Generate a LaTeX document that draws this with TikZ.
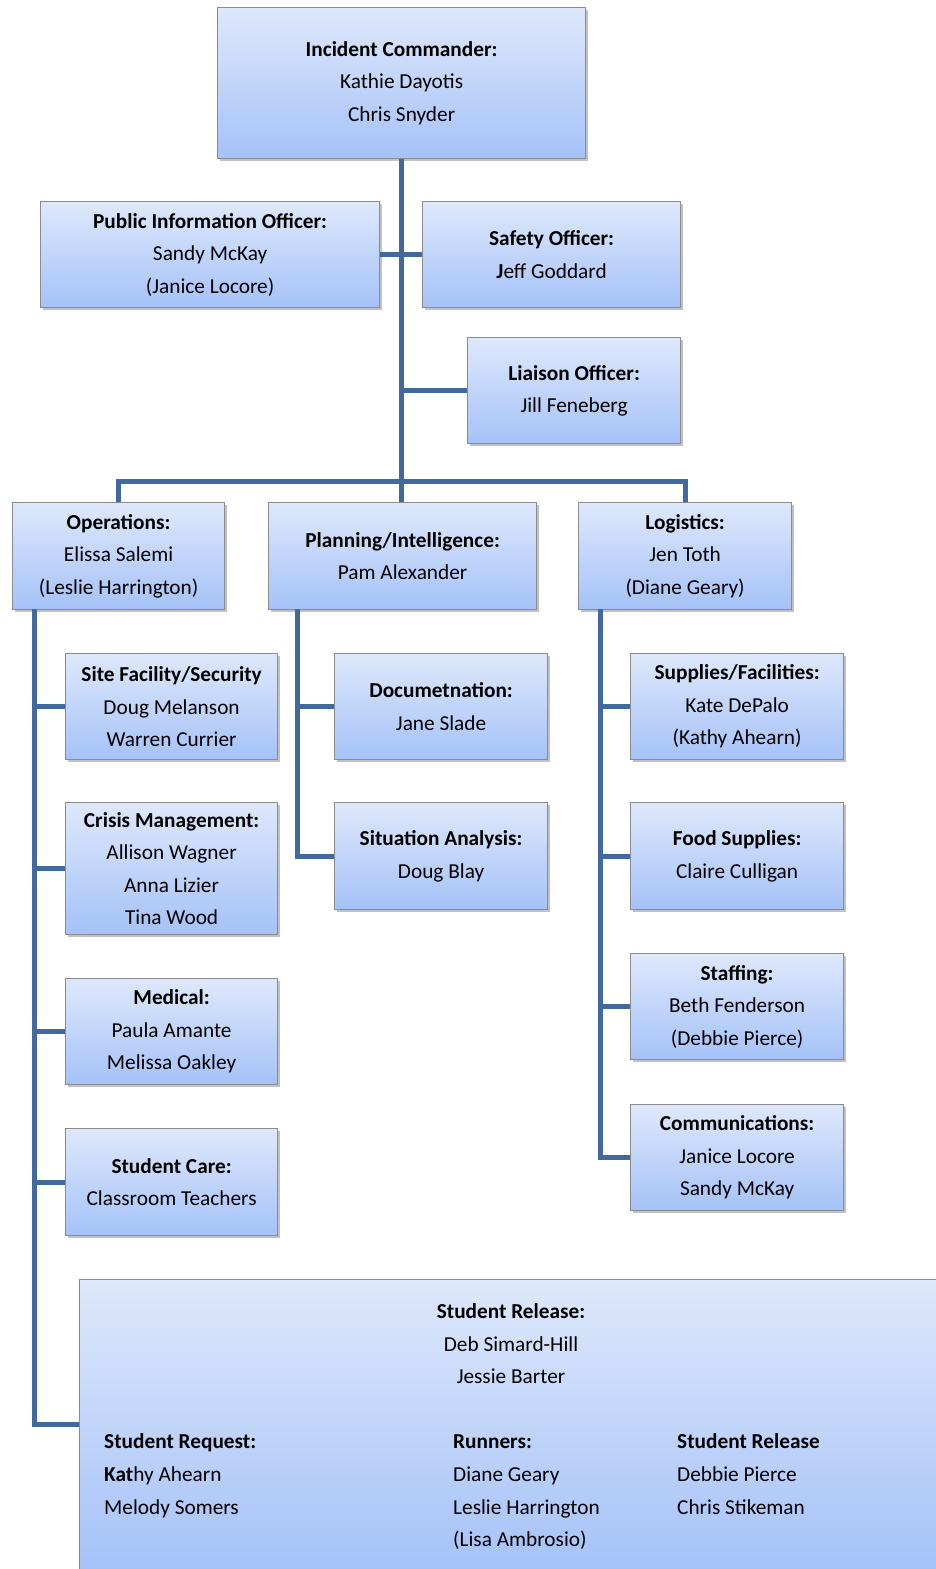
\documentclass[tikz,border=0pt]{standalone}
\usepackage{fontspec}
\setmainfont{Carlito}
\usetikzlibrary{shadows}
\definecolor{boxtop}{HTML}{DEE8FB}
\definecolor{boxbot}{HTML}{A5C2F8}
\definecolor{boxline}{HTML}{8A8C90}
\definecolor{connc}{HTML}{41699E}
\tikzset{
  orgbox/.style={draw=boxline, line width=1.2pt, top color=boxtop, bottom color=boxbot,
    align=center, inner sep=0pt, anchor=north west,
    font=\fontsize{21.3}{32.5}\selectfont,
    drop shadow={shadow xshift=2pt, shadow yshift=-2.5pt, opacity=0.4, fill=black!60}},
  conn/.style={draw=connc, line width=5pt},
  ltext/.style={anchor=base west, inner sep=0pt, font=\fontsize{21.3}{32.5}\selectfont},
  ctext/.style={anchor=base, inner sep=0pt, font=\fontsize{21.3}{32.5}\selectfont}
}
\newcommand{\obox}[6]{% name, x1, y1, x2, y2, text
  \node[orgbox, minimum width={(#4-#2)*1pt}, minimum height={(#5-#3)*1pt}] (#1) at (#2,#3) {#6};}
\begin{document}
\begin{tikzpicture}[x=1pt,y=-1pt]
\clip (0,0) rectangle (936,1569);
\fill[white] (0,0) rectangle (936,1569);

\obox{ic}{217}{7}{585}{158}{\textbf{Incident Commander:}\\Kathie Dayotis\\Chris Snyder}
\obox{pio}{40}{201}{379}{307}{\textbf{Public Information Officer:}\\Sandy McKay\\(Janice Locore)}
\obox{safety}{422}{201}{680}{307}{\textbf{Safety Officer:}\\\textbf{J}eff Goddard}
\obox{liaison}{467}{337}{680}{443}{\textbf{Liaison Officer:}\\Jill Feneberg}
\obox{ops}{12}{502}{224}{609}{\textbf{Operations:}\\Elissa Salemi\\(Leslie Harrington)}
\obox{plan}{268}{502}{536}{609}{\textbf{Planning/Intelligence:}\\Pam Alexander}
\obox{log}{578}{502}{791}{609}{\textbf{Logistics:}\\Jen Toth\\(Diane Geary)}
\obox{site}{65}{653}{277}{759}{\textbf{Site Facility/Security}\\Doug Melanson\\Warren Currier}
\obox{crisis}{65}{802}{277}{934}{\textbf{Crisis Management:}\\Allison Wagner\\Anna Lizier\\Tina Wood}
\obox{medical}{65}{978}{277}{1084}{\textbf{Medical:}\\Paula Amante\\Melissa Oakley}
\obox{care}{65}{1128}{277}{1235}{\textbf{Student Care:}\\Classroom Teachers}
\obox{doc}{334}{653}{547}{759}{\textbf{Documetnation:}\\Jane Slade}
\obox{sit}{334}{802}{547}{909}{\textbf{Situation Analysis:}\\Doug Blay}
\obox{supp}{630}{653}{843}{759}{\textbf{Supplies/Facilities:}\\Kate DePalo\\(Kathy Ahearn)}
\obox{food}{630}{802}{843}{909}{\textbf{Food Supplies:}\\Claire Culligan}
\obox{staff}{630}{953}{843}{1059}{\textbf{Staffing:}\\Beth Fenderson\\(Debbie Pierce)}
\obox{comm}{630}{1104}{843}{1210}{\textbf{Communications:}\\Janice Locore\\Sandy McKay}
\obox{release}{79}{1279}{960}{1569}{}

% texts inside the Student Release box
\node[ctext] (r1) at (511,1318) {\textbf{Student Release:}};
\node[ctext] (r2) at (511,1351) {Deb Simard-Hill};
\node[ctext] (r3) at (511,1383) {Jessie Barter};
\node[ltext] (q1) at (104,1448) {\textbf{Student Request:}};
\node[ltext] (q2) at (104,1481) {\textbf{Kat}hy Ahearn};
\node[ltext] (q3) at (104,1514) {Melody Somers};
\node[ltext] (u1) at (453,1448) {\textbf{Runners:}};
\node[ltext] (u2) at (453,1481) {Diane Geary};
\node[ltext] (u3) at (453,1514) {Leslie Harrington};
\node[ltext] (u4) at (453,1546) {(Lisa Ambrosio)};
\node[ltext] (s1) at (677,1448) {\textbf{Student Release}};
\node[ltext] (s2) at (677,1481) {Debbie Pierce};
\node[ltext] (s3) at (677,1514) {Chris Stikeman};

% junction coordinates
\coordinate (jc) at (401,481);
\coordinate (opsspine) at (34,609);
\coordinate (planspine) at (297,609);
\coordinate (logspine) at (600,609);

% connectors
\draw[conn] (ic.south) -- (ic.south |- jc);
\draw[conn] (pio.east) -- (safety.west);
\draw[conn] (liaison.west) -- (liaison.west -| ic.south);
\draw[conn] (ops.north) -- (ops.north |- jc) -- (log.north |- jc) -- (log.north);
\draw[conn] (ic.south |- jc) -- (ic.south |- plan.north);

\draw[conn] (opsspine) |- (release.west);
\draw[conn] (site.west) -- (site.west -| opsspine);
\draw[conn] (crisis.west) -- (crisis.west -| opsspine);
\draw[conn] (medical.west) -- (medical.west -| opsspine);
\draw[conn] (care.west) -- (care.west -| opsspine);

\draw[conn] (planspine) |- (sit.west);
\draw[conn] (doc.west) -- (doc.west -| planspine);

\draw[conn] (logspine) |- (comm.west);
\draw[conn] (supp.west) -- (supp.west -| logspine);
\draw[conn] (food.west) -- (food.west -| logspine);
\draw[conn] (staff.west) -- (staff.west -| logspine);
\end{tikzpicture}
\end{document}
